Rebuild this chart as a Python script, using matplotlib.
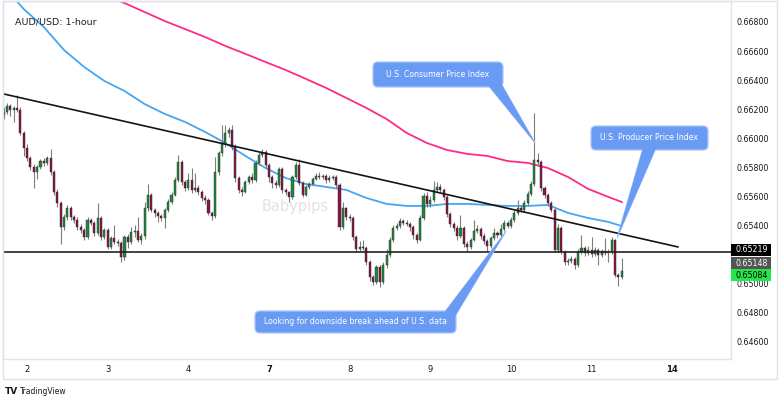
import matplotlib
matplotlib.use('Agg')
import matplotlib.pyplot as plt
from matplotlib.patches import FancyBboxPatch, Polygon, Rectangle
import numpy as np

pair_title = 'AUD/USD: 1-hour'
day_labels = ['2', '3', '4', '7', '8', '9', '10', '11', '14']
day_start_idx = [7, 31, 55, 79, 103, 127, 151, 175, 199]
# 0.652 sits under the price tags, so it is not labelled
price_ticks = [0.646, 0.648, 0.650, 0.654, 0.656, 0.658, 0.660, 0.662, 0.664, 0.666, 0.668]

# hourly candles, each opens at the previous close
first_open = 0.66160
close = [
    0.66180, 0.66222, 0.66194, 0.66208, 0.66194, 0.66036, 0.65933, 0.65864, 0.65802, 0.65768,
    0.65802, 0.65843, 0.65830, 0.65864, 0.65768, 0.65630, 0.65554, 0.65390, 0.65458, 0.65520,
    0.65458, 0.65437, 0.65390, 0.65369, 0.65321, 0.65437, 0.65417, 0.65348, 0.65451, 0.65321,
    0.65369, 0.65252, 0.65314, 0.65286, 0.65279, 0.65183, 0.65321, 0.65286, 0.65355, 0.65362,
    0.65300, 0.65328, 0.65520, 0.65610, 0.65506, 0.65486, 0.65465, 0.65451, 0.65506, 0.65561,
    0.65610, 0.65713, 0.65836, 0.65699, 0.65658, 0.65713, 0.65644, 0.65658, 0.65630, 0.65589,
    0.65575, 0.65486, 0.65465, 0.65768, 0.65898, 0.65967, 0.66036, 0.66057, 0.65940, 0.65726,
    0.65644, 0.65630, 0.65699, 0.65733, 0.65713, 0.65830, 0.65885, 0.65905, 0.65816, 0.65733,
    0.65692, 0.65678, 0.65788, 0.65644, 0.65630, 0.65596, 0.65733, 0.65816, 0.65692, 0.65610,
    0.65665, 0.65685, 0.65719, 0.65740, 0.65733, 0.65740, 0.65713, 0.65726, 0.65733, 0.65678,
    0.65390, 0.65520, 0.65458, 0.65451, 0.65321, 0.65238, 0.65252, 0.65245, 0.65148, 0.65045,
    0.65011, 0.65114, 0.65011, 0.65128, 0.65197, 0.65300, 0.65383, 0.65397, 0.65431, 0.65417,
    0.65410, 0.65390, 0.65335, 0.65300, 0.65451, 0.65603, 0.65548, 0.65575, 0.65644, 0.65665,
    0.65644, 0.65596, 0.65479, 0.65410, 0.65383, 0.65328, 0.65383, 0.65272, 0.65252, 0.65300,
    0.65362, 0.65376, 0.65328, 0.65293, 0.65258, 0.65314, 0.65348, 0.65335, 0.65376, 0.65417,
    0.65397, 0.65437, 0.65486, 0.65520, 0.65506, 0.65554, 0.65617, 0.65685, 0.65850, 0.65836,
    0.65658, 0.65610, 0.65554, 0.65506, 0.65231, 0.65383, 0.65217, 0.65148, 0.65155, 0.65169,
    0.65128, 0.65217, 0.65245, 0.65210, 0.65231, 0.65203, 0.65231, 0.65197, 0.65224, 0.65210,
    0.65217, 0.65300, 0.65059, 0.65045, 0.65086]
high = [
    0.66215, 0.66240, 0.66235, 0.66225, 0.66297, 0.66215, 0.66050, 0.65960, 0.65880, 0.65820,
    0.65815, 0.65860, 0.65865, 0.65880, 0.65926, 0.65780, 0.65650, 0.65570, 0.65480, 0.65540,
    0.65535, 0.65475, 0.65455, 0.65410, 0.65385, 0.65455, 0.65450, 0.65430, 0.65554, 0.65465,
    0.65385, 0.65385, 0.65330, 0.65400, 0.65310, 0.65295, 0.65335, 0.65340, 0.65390, 0.65400,
    0.65458, 0.65345, 0.65560, 0.65685, 0.65625, 0.65520, 0.65500, 0.65480, 0.65520, 0.65580,
    0.65630, 0.65730, 0.65885, 0.65850, 0.65715, 0.65760, 0.65795, 0.65760, 0.65675, 0.65645,
    0.65610, 0.65590, 0.65500, 0.65871, 0.65910, 0.66091, 0.66091, 0.66080, 0.66091, 0.65960,
    0.65740, 0.65665, 0.65715, 0.65750, 0.65760, 0.65850, 0.65905, 0.65926, 0.65920, 0.65830,
    0.65745, 0.65710, 0.65805, 0.65800, 0.65660, 0.65640, 0.65750, 0.65835, 0.65857, 0.65705,
    0.65680, 0.65700, 0.65735, 0.65760, 0.65770, 0.65755, 0.65755, 0.65745, 0.65750, 0.65745,
    0.65690, 0.65560, 0.65530, 0.65480, 0.65465, 0.65335, 0.65290, 0.65300, 0.65260, 0.65160,
    0.65060, 0.65130, 0.65125, 0.65145, 0.65240, 0.65320, 0.65400, 0.65420, 0.65450, 0.65445,
    0.65440, 0.65425, 0.65405, 0.65350, 0.65470, 0.65620, 0.65630, 0.65600, 0.65706, 0.65700,
    0.65685, 0.65660, 0.65610, 0.65495, 0.65425, 0.65400, 0.65472, 0.65395, 0.65290, 0.65315,
    0.65440, 0.65400, 0.65390, 0.65345, 0.65305, 0.65330, 0.65380, 0.65365, 0.65410, 0.65440,
    0.65430, 0.65460, 0.65505, 0.65575, 0.65540, 0.65575, 0.65640, 0.65705, 0.66174, 0.65898,
    0.65850, 0.65670, 0.65625, 0.65570, 0.65520, 0.65410, 0.65395, 0.65230, 0.65175, 0.65190,
    0.65185, 0.65240, 0.65335, 0.65260, 0.65260, 0.65321, 0.65250, 0.65245, 0.65240, 0.65314,
    0.65235, 0.65321, 0.65310, 0.65070, 0.65176]
low = [
    0.66130, 0.66170, 0.66150, 0.66110, 0.66180, 0.66020, 0.65880, 0.65840, 0.65780, 0.65658,
    0.65720, 0.65790, 0.65810, 0.65815, 0.65750, 0.65610, 0.65530, 0.65272, 0.65370, 0.65440,
    0.65440, 0.65420, 0.65370, 0.65345, 0.65300, 0.65310, 0.65400, 0.65330, 0.65335, 0.65300,
    0.65305, 0.65235, 0.65240, 0.65270, 0.65260, 0.65148, 0.65165, 0.65245, 0.65275, 0.65320,
    0.65285, 0.65270, 0.65310, 0.65500, 0.65490, 0.65460, 0.65424, 0.65430, 0.65383, 0.65490,
    0.65545, 0.65600, 0.65700, 0.65680, 0.65640, 0.65645, 0.65625, 0.65630, 0.65610, 0.65570,
    0.65550, 0.65470, 0.65440, 0.65450, 0.65750, 0.65880, 0.65940, 0.66010, 0.65920, 0.65700,
    0.65620, 0.65600, 0.65620, 0.65685, 0.65690, 0.65700, 0.65815, 0.65870, 0.65795, 0.65700,
    0.65660, 0.65655, 0.65665, 0.65620, 0.65610, 0.65561, 0.65585, 0.65720, 0.65680, 0.65595,
    0.65600, 0.65650, 0.65675, 0.65710, 0.65720, 0.65720, 0.65690, 0.65700, 0.65715, 0.65660,
    0.65370, 0.65375, 0.65440, 0.65430, 0.65300, 0.65220, 0.65225, 0.65230, 0.65130, 0.65020,
    0.64990, 0.65000, 0.64976, 0.64995, 0.65110, 0.65180, 0.65285, 0.65370, 0.65385, 0.65400,
    0.65395, 0.65360, 0.65310, 0.65280, 0.65290, 0.65440, 0.65530, 0.65530, 0.65560, 0.65630,
    0.65625, 0.65575, 0.65460, 0.65390, 0.65360, 0.65300, 0.65315, 0.65250, 0.65217, 0.65240,
    0.65290, 0.65350, 0.65310, 0.65275, 0.65224, 0.65245, 0.65300, 0.65315, 0.65320, 0.65360,
    0.65380, 0.65385, 0.65425, 0.65470, 0.65490, 0.65495, 0.65540, 0.65600, 0.65670, 0.65810,
    0.65640, 0.65590, 0.65535, 0.65490, 0.65215, 0.65220, 0.65200, 0.65125, 0.65130, 0.65140,
    0.65100, 0.65115, 0.65205, 0.65190, 0.65195, 0.65185, 0.65190, 0.65128, 0.65180, 0.65195,
    0.65150, 0.65200, 0.65045, 0.64983, 0.65030]

# moving averages (read every 6 bars)
ma_blue_idx = [0, 6, 12, 18, 24, 30, 36, 42, 48, 54, 60, 66, 72, 78, 84, 90, 96, 102, 108,
               114, 120, 126, 132, 138, 144, 150, 156, 162, 168, 174, 180, 184]
ma_blue = [0.67047, 0.66889, 0.66765, 0.66607, 0.66490, 0.66394, 0.66325, 0.66235, 0.66167,
           0.66112, 0.66043, 0.65967, 0.65878, 0.65795, 0.65726, 0.65685, 0.65665, 0.65644,
           0.65589, 0.65548, 0.65534, 0.65534, 0.65548, 0.65548, 0.65541, 0.65534, 0.65534,
           0.65541, 0.65486, 0.65451, 0.65424, 0.65396]
ma_pink_idx = [30, 36, 42, 48, 54, 60, 66, 72, 78, 84, 90, 96, 102, 108, 114, 120, 126, 132,
               138, 144, 150, 156, 162, 168, 174, 180, 184]
ma_pink = [0.66985, 0.66930, 0.66868, 0.66806, 0.66751, 0.66696, 0.66635, 0.66580, 0.66524,
           0.66469, 0.66408, 0.66346, 0.66277, 0.66208, 0.66132, 0.66036, 0.65967, 0.65919,
           0.65892, 0.65878, 0.65843, 0.65830, 0.65795, 0.65733, 0.65651, 0.65596, 0.65561]

trend_idx = [0.15, 200.7]
trend_price = [0.66304, 0.65252]
support = 0.65219

tag_values = [0.65219, 0.65148, 0.65084]
tag_bg = ['#000000', '#555555', '#22e64a']
tag_fg = ['white', 'white', 'black']

cpi_tip = (158.2, 0.65967)
ppi_tip = (182.6, 0.65314)
note_tip = (149.6, 0.65362)

up_col = '#1f8a3b'
dn_col = '#8c1448'
wick_col = '#7d7d7d'
frame_col = '#e0e3eb'
box_col = '#6a9bf4'
box_edge = '#a9c6fb'

plt.rcParams['font.family'] = ['DejaVu Sans']

fig = plt.figure(figsize=(7.8, 4.04), dpi=100)
fig.patch.set_facecolor('white')
ax = fig.add_axes([3/780, (404-359)/404, 728/780, 358/404])

idx = np.arange(len(close))
o = np.array([first_open] + close[:-1])
c = np.array(close)
is_up = c >= o
cols = np.where(is_up, up_col, dn_col)
bottoms = np.minimum(o, c)
heights = np.maximum(np.abs(c - o), 0.00003)

ax.vlines(idx, low, high, color=wick_col, lw=0.8, zorder=3)
ax.bar(idx, heights, bottom=bottoms, width=0.62, color=cols,
       edgecolor='#2a2a2a', linewidth=0.3, zorder=4)

ax.plot(ma_pink_idx, ma_pink, color='#ff2a86', lw=1.3, zorder=2)
ax.plot(ma_blue_idx, ma_blue, color='#45a6f2', lw=1.3, zorder=2)
ax.plot(trend_idx, trend_price, color='#141414', lw=1.2, zorder=5)
ax.axhline(support, color='#222222', lw=1.2, zorder=5)

ax.text(0.355, 0.425, 'Babypips', transform=ax.transAxes, fontsize=10.5,
        color='#e2e2e2', ha='left', va='center', zorder=1)
ax.text(0.016, 0.94, pair_title, transform=ax.transAxes, fontsize=6.8,
        color='#222222', ha='left', va='center', zorder=6)

ax.set_xlim(-0.15, 216.5)
ax.set_ylim(0.64481, 0.66944)
ax.set_xticks(day_start_idx)
ax.set_xticklabels(day_labels)
ax.set_yticks(price_ticks)
ax.set_yticklabels(['%.5f' % p for p in price_ticks])
ax.yaxis.tick_right()
ax.tick_params(axis='y', length=0, pad=4, labelsize=5.7, labelcolor='#131722')
ax.tick_params(axis='x', length=0, pad=4, labelsize=6, labelcolor='#131722')
for lab, d in zip(ax.get_xticklabels(), day_labels):
    if d in ('7', '14'):
        lab.set_fontweight('bold')
for sp in ax.spines.values():
    sp.set_color(frame_col)
    sp.set_linewidth(1)

# overlay in pixel units for the frame, callouts and price tags
ov = fig.add_axes([0, 0, 1, 1], zorder=10)
ov.set_xlim(0, 780)
ov.set_ylim(404, 0)
ov.axis('off')
ov.patch.set_alpha(0)
ov.add_patch(Rectangle((3, 1), 774, 378, fill=False, edgecolor=frame_col, lw=1))


def to_px(pt):
    disp = ax.transData.transform(pt)
    return ov.transData.inverted().transform(disp)


def callout(x0, y0, w, h, text, base, tip):
    tx, ty = to_px(tip)
    ov.add_patch(Polygon([base[0], base[1], (tx, ty)], closed=True,
                         facecolor=box_col, edgecolor=box_edge, lw=0.8, zorder=11))
    ov.add_patch(FancyBboxPatch((x0, y0), w, h, boxstyle='round,pad=0,rounding_size=5',
                                facecolor=box_col, edgecolor=box_edge, lw=0.9, zorder=12))
    ov.add_patch(Polygon([base[0], base[1], (tx, ty)], closed=True,
                         facecolor=box_col, edgecolor='none', zorder=13))
    ov.text(x0 + w / 2, y0 + h / 2, text, color='white', fontsize=5.6,
            ha='center', va='center', zorder=14)


callout(373, 62, 130, 25, 'U.S. Consumer Price Index', [(488, 85), (502, 85)], cpi_tip)
callout(591, 126, 117, 24, 'U.S. Producer Price Index', [(643, 148), (656, 148)], ppi_tip)
callout(255, 311, 201, 22, 'Looking for downside break ahead of U.S. data',
        [(444, 313), (454, 318)], note_tip)

tag_y = [250, 263, 275]
for v, yy, bg, fg in zip(tag_values, tag_y, tag_bg, tag_fg):
    ov.add_patch(Rectangle((731, yy - 6), 40, 12, facecolor=bg, edgecolor='none', zorder=11))
    ov.text(735, yy, '%.5f' % v, color=fg, fontsize=5.7, ha='left', va='center', zorder=12)

ov.text(5, 392, 'TV', fontsize=6.5, fontweight='bold', color='#131722',
        ha='left', va='center')
ov.text(20, 392, 'TradingView', fontsize=5.5, color='#131722', ha='left', va='center')

fig.savefig('out.png', dpi=100)
